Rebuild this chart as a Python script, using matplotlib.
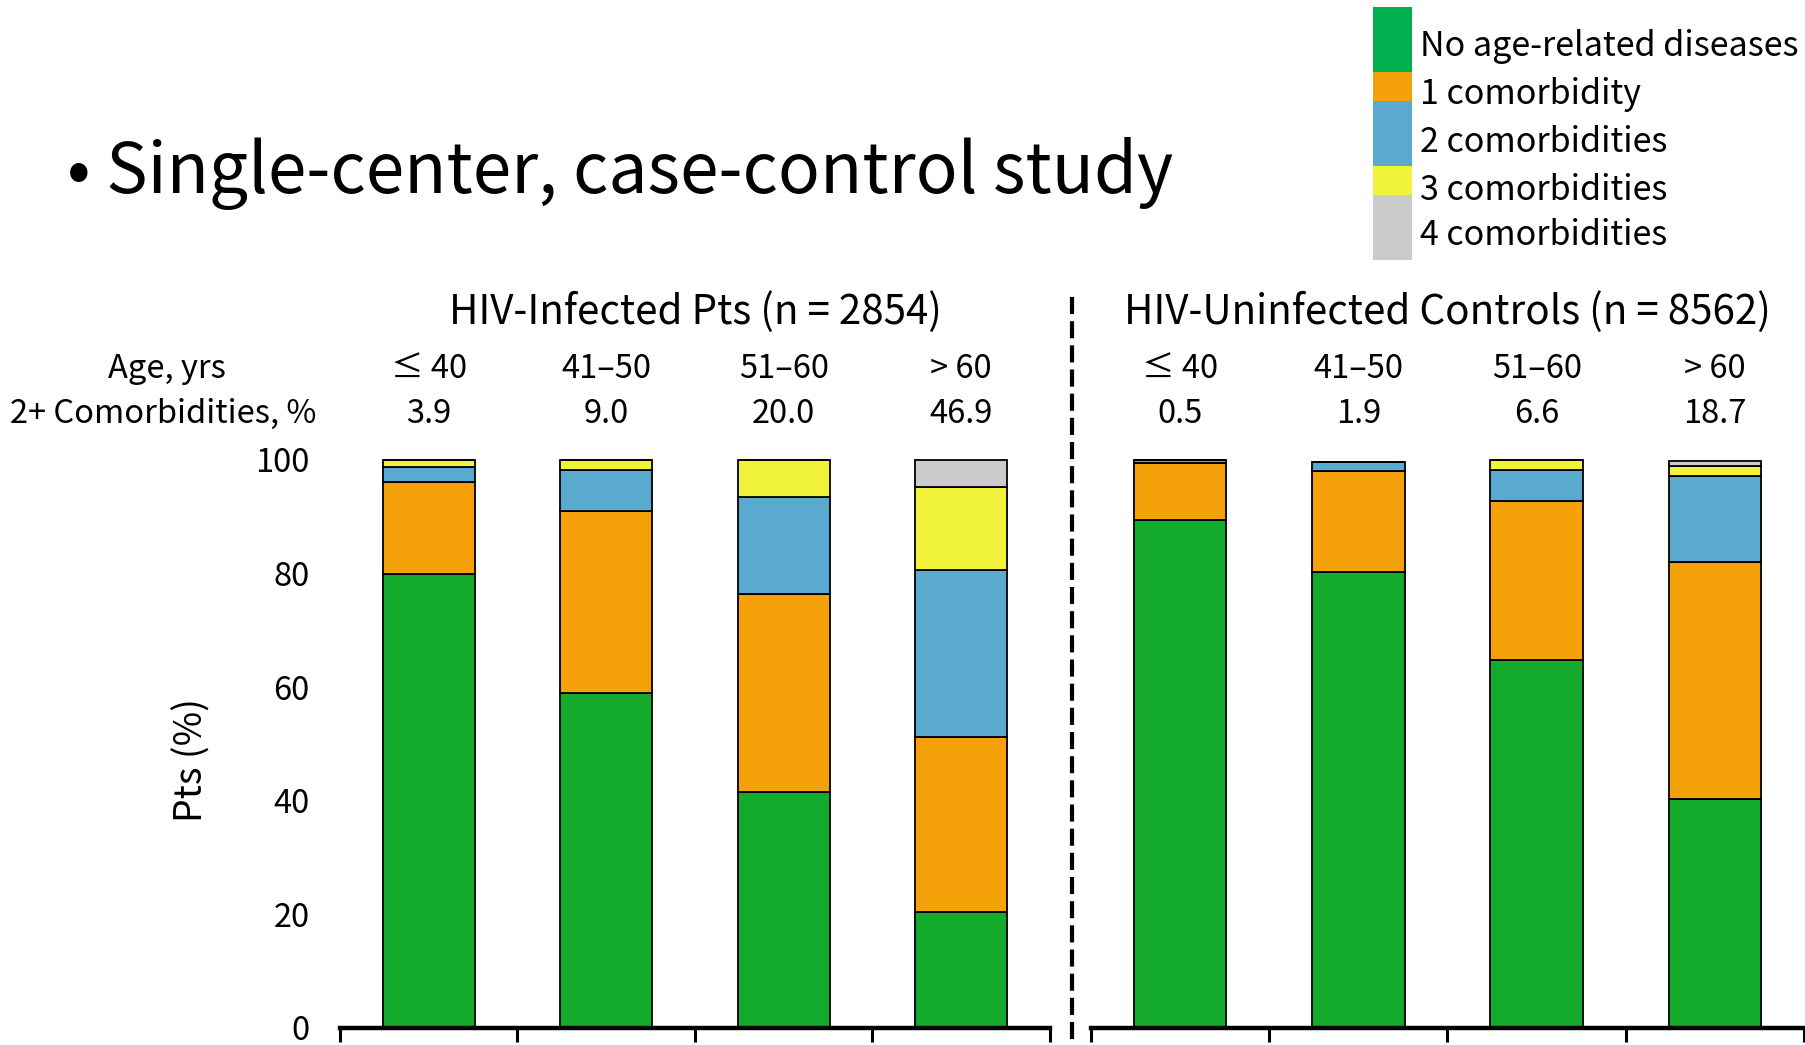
import matplotlib
matplotlib.use("Agg")
import matplotlib.pyplot as plt
import matplotlib.transforms as mtransforms
from matplotlib.patches import Rectangle
from matplotlib.lines import Line2D

plt.rcParams['font.family'] = ['Noto Sans CJK JP', 'DejaVu Sans']

# data
age_groups = ["≤ 40", "41–50", "51–60", "> 60"]
infected_2plus = ["3.9", "9.0", "20.0", "46.9"]
control_2plus = ["0.5", "1.9", "6.6", "18.7"]

# stacked shares (%), bottom to top: none, 1, 2, 3, 4 comorbidities
infected_none = [80.0, 59.0, 41.6, 20.5]
infected_one = [16.1, 32.0, 34.8, 30.7]
infected_two = [2.6, 7.2, 17.1, 29.4]
infected_three = [1.3, 1.8, 6.5, 14.7]
infected_four = [0.0, 0.0, 0.0, 4.7]

control_none = [89.5, 80.2, 64.8, 40.3]
control_one = [10.0, 17.9, 27.9, 41.8]
control_two = [0.5, 1.6, 5.5, 15.1]
control_three = [0.0, 0.0, 1.8, 1.8]
control_four = [0.0, 0.0, 0.0, 0.8]

legend_labels = ["No age-related diseases", "1 comorbidity", "2 comorbidities",
                 "3 comorbidities", "4 comorbidities"]
bar_colors = ["#14AB2C", "#F5A20A", "#5AAACF", "#F1F23A", "#CBCBCD"]
legend_colors = ["#00B050", "#F5A20A", "#5AAACF", "#F1F23A", "#CBCBCD"]
yticks = [0, 20, 40, 60, 80, 100]

W, H = 1806, 1045
fig = plt.figure(figsize=(W / 100, H / 100), dpi=100)


def fx(x):
    return x / W


def fy(y):
    return 1 - y / H


y0, y100 = 1028, 460
ax1 = fig.add_axes([fx(340), fy(y0), (1050 - 340) / W, (y0 - y100) / H])
ax2 = fig.add_axes([fx(1091), fy(y0), (1804 - 1091) / W, (y0 - y100) / H])

groups = [
    (ax1, [infected_none, infected_one, infected_two, infected_three, infected_four],
     "HIV-Infected Pts (n = 2854)", infected_2plus),
    (ax2, [control_none, control_one, control_two, control_three, control_four],
     "HIV-Uninfected Controls (n = 8562)", control_2plus),
]

fs = 23.5
for ax, layers, title, twoplus in groups:
    x = list(range(len(age_groups)))
    bottom = [0.0] * len(x)
    for vals, col in zip(layers, bar_colors):
        ax.bar(x, vals, width=0.52, bottom=bottom, color=col, edgecolor="black",
               linewidth=1.3, clip_on=False, zorder=3)
        bottom = [b + v for b, v in zip(bottom, vals)]
    ax.set_xlim(-0.5, 3.5)
    ax.set_ylim(0, 100)
    for s in ["top", "right", "left"]:
        ax.spines[s].set_visible(False)
    ax.spines["bottom"].set_linewidth(3.2)
    ax.spines["bottom"].set_zorder(4)
    ax.set_xticks([-0.5, 0.5, 1.5, 2.5, 3.5])
    ax.set_xticklabels([])
    ax.tick_params(axis="x", direction="out", length=10, width=2.2)
    trans = mtransforms.blended_transform_factory(ax.transData, fig.transFigure)
    for i in x:
        ax.text(i, fy(369), age_groups[i], transform=trans, ha="center", va="center", fontsize=fs)
        ax.text(i, fy(414), twoplus[i], transform=trans, ha="center", va="center", fontsize=fs)
    ax.text(1.5, fy(312), title, transform=trans, ha="center", va="center", fontsize=29)

ax1.set_yticks(yticks)
ax1.tick_params(axis="y", length=0, pad=22, labelsize=fs)
ax2.set_yticks([])

fig.text(fx(192), fy(760), "Pts (%)", rotation=90, ha="center", va="center", fontsize=27)
fig.text(fx(167), fy(369), "Age, yrs", ha="center", va="center", fontsize=fs)
fig.text(fx(316), fy(414), "2+ Comorbidities, %", ha="right", va="center", fontsize=fs)

fig.text(fx(67), fy(173), "• Single-center, case-control study", ha="left", va="center", fontsize=50)

# dashed divider
fig.add_artist(Line2D([fx(1072), fx(1072)], [fy(297), 0], color="black", linewidth=3,
                      linestyle=(0, (4.1, 1.7))))

# legend
leg_edges = [7, 72, 101, 166, 195, 260]
leg_text_y = [46, 94, 142, 190, 236]
for i, lab in enumerate(legend_labels):
    fig.add_artist(Rectangle((fx(1373), fy(leg_edges[i + 1])), (1412 - 1373) / W,
                             (leg_edges[i + 1] - leg_edges[i]) / H, color=legend_colors[i], lw=0))
    fig.text(fx(1420), fy(leg_text_y[i]), lab, ha="left", va="center", fontsize=24.5)

fig.savefig("out.png", dpi=100)
